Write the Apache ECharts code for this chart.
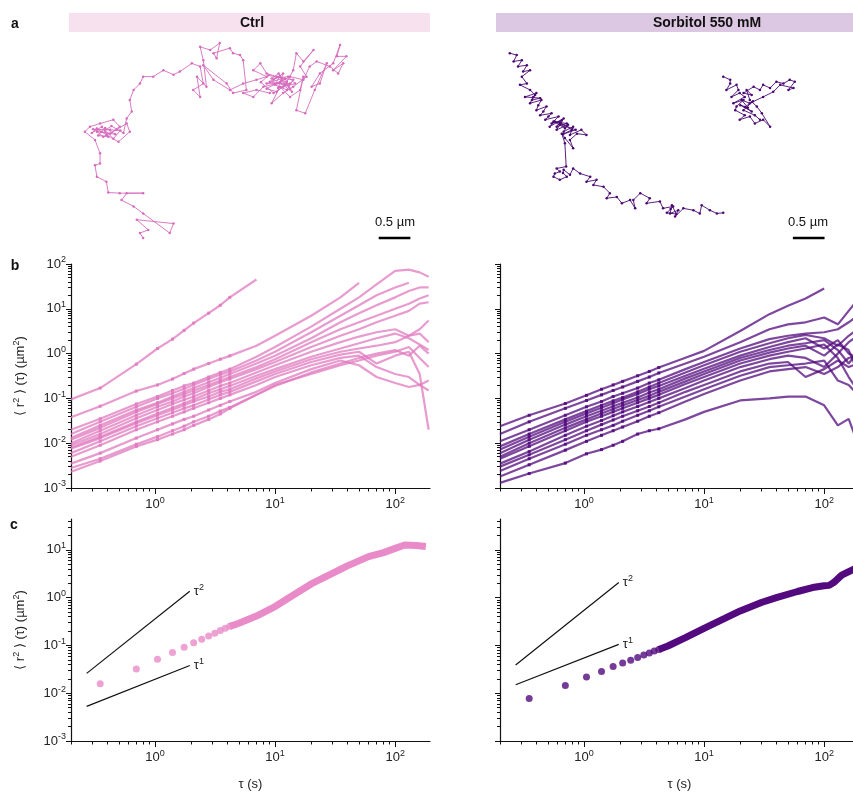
<!DOCTYPE html>
<html>
<head>
<meta charset="utf-8">
<script src="https://cdn.jsdelivr.net/npm/echarts@6/dist/echarts.min.js"></script>
<style>html,body{margin:0;padding:0;background:#fff}#fig{width:853px;height:792px}</style>
</head>
<body>
<div id="fig"></div>
<script>
// ---- a: example trajectories, positions in µm ----
var ctrlTrack = [[2.26,3.76],[2.21,3.68],[2.34,3.63],[2.16,3.47],[2.74,3.53],[2.68,3.68],[2.26,3.37],[2.11,3.26],[1.92,3.16],[2.00,3.05],[2.26,3.05],[1.89,3.05],[1.71,3.04],[1.68,2.87],[1.53,2.79],[1.50,2.61],[1.58,2.58],[1.58,2.42],[1.50,2.21],[1.34,2.08],[1.42,2.00],[1.58,1.95],[1.79,1.89],[1.89,2.00],[1.74,2.11],[1.53,2.08],[1.63,2.16],[1.84,2.05],[2.00,1.95],[2.05,2.08],[1.87,2.24],[1.68,2.13],[1.53,2.03],[1.45,2.10],[1.61,2.00],[1.71,2.16],[1.55,2.14],[1.66,2.02],[1.82,2.12],[1.60,2.08],[1.47,2.04],[1.74,2.05],[1.90,2.06],[1.79,2.19],[1.66,2.06],[1.76,1.99],[1.95,2.10],[2.00,1.87],[2.08,1.76],[2.05,1.58],[2.11,1.42],[2.21,1.32],[2.26,1.21],[2.42,1.21],[2.58,1.11],[2.74,1.18],[2.84,1.13],[3.03,1.00],[3.16,1.05],[3.21,1.32],[3.05,1.42],[3.16,1.53],[3.11,1.21],[3.26,1.37],[3.21,0.95],[3.16,0.74],[3.32,0.79],[3.47,0.68],[3.42,0.92],[3.37,0.84],[3.63,0.76],[3.68,0.84],[3.79,0.87],[3.84,0.95],[3.89,1.42],[3.68,1.47],[3.58,1.32],[3.21,1.03],[3.37,1.26],[3.63,1.42],[3.84,1.32],[4.05,1.26],[4.21,1.21],[4.00,1.11],[4.11,1.00],[4.21,1.16],[4.37,1.21],[4.32,1.26],[4.47,1.16],[4.39,1.39],[4.58,1.32],[4.21,1.32],[4.45,1.24],[4.63,1.26],[4.53,1.42],[4.34,1.34],[4.42,1.20],[4.26,1.29],[4.50,1.34],[4.37,1.45],[4.21,1.40],[4.45,1.27],[4.58,1.40],[4.40,1.16],[4.29,1.24],[4.55,1.21],[4.66,1.32],[4.47,1.37],[4.32,1.47],[4.12,1.30],[4.24,1.19],[4.50,1.24],[4.61,1.45],[4.42,1.30],[4.53,1.29],[4.63,1.11],[4.68,0.84],[4.79,0.97],[4.95,0.79],[4.74,1.05],[4.84,1.21],[4.63,1.37],[4.47,1.47],[4.29,1.63],[4.42,1.37],[4.58,1.53],[4.74,1.42],[4.79,1.21],[4.68,1.74],[4.82,1.79],[4.97,1.42],[5.16,1.00],[5.05,1.32],[4.92,1.37],[5.05,1.16],[5.26,1.00],[5.37,0.71],[5.32,0.89],[5.47,0.89],[5.26,1.11],[5.42,1.00],[5.34,1.16],[5.21,1.05],[5.00,0.97],[4.89,1.05],[4.79,1.26],[4.58,1.21],[4.37,1.32],[4.16,1.37],[4.00,1.53],[3.84,1.47],[4.05,1.42],[4.26,1.47]];
var sorbTrackA = [[1.26,0.84],[1.37,0.87],[1.32,0.97],[1.45,0.95],[1.39,1.05],[1.53,1.03],[1.47,1.13],[1.58,1.11],[1.45,1.21],[1.53,1.32],[1.42,1.34],[1.58,1.42],[1.66,1.50],[1.61,1.58],[1.74,1.55],[1.50,1.53],[1.68,1.47],[1.63,1.53],[1.58,1.63],[1.76,1.58],[1.71,1.66],[1.68,1.74],[1.84,1.68],[1.79,1.76],[1.74,1.82],[1.92,1.79],[1.87,1.84],[1.82,1.89],[2.03,1.84],[1.92,1.95],[2.08,1.90],[2.00,2.00],[2.16,1.95],[1.95,1.92],[2.13,2.02],[2.05,1.93],[2.24,2.05],[2.10,2.12],[2.30,2.05],[1.97,1.92],[1.89,2.00],[2.11,1.87],[2.05,1.97],[2.00,2.05],[2.18,1.97],[2.11,2.08],[2.26,2.00],[2.21,2.13],[2.39,2.05],[2.47,2.13],[2.32,2.11],[2.21,2.21],[2.26,2.34],[2.13,2.18],[2.08,2.11],[2.13,2.26],[2.15,2.63],[2.00,2.66],[2.05,2.71],[1.97,2.74],[1.95,2.79],[2.05,2.84],[2.16,2.79],[2.10,2.73],[2.11,2.68],[2.21,2.76],[2.26,2.66],[2.37,2.74],[2.53,2.79],[2.47,2.87],[2.63,2.84],[2.58,2.92],[2.74,2.95],[2.84,3.05],[2.79,3.13],[2.95,3.11],[3.03,3.21],[3.16,3.16],[3.24,3.29],[3.21,3.16],[3.32,3.05],[3.47,3.13],[3.42,3.21],[3.63,3.18],[3.68,3.29],[3.84,3.26],[3.80,3.30],[3.74,3.36],[3.89,3.38],[3.82,3.24],[3.79,3.37],[3.92,3.32],[3.87,3.42],[4.00,3.29],[4.16,3.32],[4.26,3.37],[4.29,3.24],[4.42,3.32],[4.53,3.37],[4.63,3.36]];
var sorbTrackB = [[4.63,1.21],[4.74,1.26],[4.74,1.32],[4.68,1.42],[4.84,1.34],[4.87,1.42],[4.76,1.53],[4.89,1.47],[4.97,1.53],[4.79,1.63],[4.95,1.58],[4.84,1.68],[4.82,1.74],[4.97,1.82],[4.89,1.89],[5.05,1.84],[5.13,1.95],[5.26,1.89],[5.37,2.00],[5.24,1.79],[5.16,1.68],[5.05,1.58],[5.00,1.42],[5.08,1.50],[4.95,1.47],[5.11,1.37],[5.21,1.42],[5.26,1.34],[5.37,1.39],[5.47,1.29],[5.58,1.32],[5.68,1.26],[5.76,1.29],[5.66,1.42],[5.74,1.39],[5.53,1.34],[5.42,1.45],[5.26,1.53],[5.05,1.63],[4.92,1.58],[5.02,1.70],[4.90,1.66],[5.08,1.76],[4.97,1.69],[5.10,1.60],[4.95,1.74],[5.13,1.82],[5.21,1.89]];
var scaleBarCtrl = [[5.98,3.76],[6.48,3.76]];
var scaleBarSorb = [[5.73,3.76],[6.23,3.76]];

// ---- b: MSD of single trajectories (µm²) vs lag time (s) ----
var tauB = [0.2,0.35,0.7,1.05,1.4,1.75,2.1,2.8,3.5,4.2,7,10,20,35,50,70,100,130,160,190];
var msdCtrl = [
  [0.095,0.17,0.58,1.3,2.1,3.3,4.8,8,12,18,45],
  [0.038,0.067,0.146,0.2,0.27,0.36,0.45,0.6,0.75,0.89,1.5,2.5,7,18,38],
  [0.02,0.035,0.075,0.11,0.15,0.19,0.22,0.3,0.38,0.45,0.85,1.4,4,10,18,35,70,75,65,52],
  [0.016,0.03,0.065,0.1,0.13,0.165,0.2,0.27,0.34,0.4,0.7,1.1,3,7,12,20,30,38],
  [0.013,0.025,0.055,0.08,0.11,0.14,0.17,0.23,0.29,0.35,0.6,0.9,2.2,5,8,12,18,25,30,30],
  [0.012,0.022,0.05,0.075,0.1,0.125,0.15,0.2,0.25,0.3,0.5,0.75,1.8,3.5,5,7,10,13,17,20],
  [0.01,0.019,0.042,0.065,0.085,0.11,0.13,0.18,0.23,0.27,0.45,0.65,1.4,2.5,3.5,5,7,9,13,14],
  [0.009,0.016,0.036,0.055,0.075,0.093,0.11,0.15,0.19,0.22,0.38,0.55,1.1,1.8,2.4,3,3.5,2.5,3.5,5.5],
  [0.008,0.014,0.03,0.046,0.062,0.078,0.095,0.13,0.16,0.19,0.32,0.45,0.85,1.3,1.7,2.2,2.8,2.2,1.6,1.2],
  [0.0075,0.013,0.028,0.042,0.056,0.07,0.085,0.11,0.14,0.16,0.28,0.4,0.75,1.1,1.3,1.5,1.8,2.5,2.8,1.8],
  [0.006,0.011,0.024,0.036,0.048,0.06,0.07,0.095,0.12,0.14,0.24,0.35,0.65,0.95,1.1,0.6,0.9,1.1,0.35,0.02],
  [0.005,0.009,0.02,0.03,0.04,0.05,0.06,0.08,0.1,0.12,0.2,0.3,0.55,0.8,0.9,0.5,0.35,0.3,0.2,0.25],
  [0.0035,0.006,0.013,0.02,0.027,0.034,0.04,0.055,0.07,0.085,0.14,0.22,0.45,0.7,0.55,0.3,0.22,0.18,0.2,0.15],
  [0.0028,0.0045,0.0095,0.014,0.019,0.024,0.03,0.04,0.052,0.063,0.12,0.19,0.38,0.6,0.8,1.0,1.2,0.9,1.5,1.0],
  [0.0023,0.004,0.0085,0.012,0.016,0.02,0.025,0.034,0.045,0.06,0.12,0.2,0.35,0.55,0.7,0.9,1.1,1.4,0.8,0.5]
];
var msdSorb = [
  [0.024,0.042,0.077,0.117,0.16,0.2,0.24,0.32,0.4,0.49,0.81,1.15,3.2,7.6,11.7,17,28.5],
  [0.016,0.03,0.06,0.09,0.12,0.15,0.18,0.24,0.3,0.37,0.6,0.85,1.8,3.5,4.5,5,6.4,4.5,9,16],
  [0.011,0.02,0.042,0.065,0.085,0.11,0.13,0.17,0.22,0.26,0.45,0.65,1.3,2.1,2.5,2.8,3.0,3.5,5,7],
  [0.0085,0.016,0.034,0.052,0.07,0.088,0.105,0.14,0.18,0.22,0.38,0.55,1.1,1.7,2.2,2.6,2.2,1.5,2.5,3.5],
  [0.0072,0.014,0.03,0.046,0.062,0.078,0.095,0.125,0.16,0.19,0.32,0.46,0.9,1.4,1.8,2.2,1.3,2.0,1.0,0.8],
  [0.006,0.012,0.026,0.04,0.053,0.067,0.08,0.105,0.135,0.16,0.28,0.4,0.8,1.2,1.5,1.7,2.0,1.2,0.6,1.1],
  [0.005,0.01,0.022,0.034,0.046,0.058,0.07,0.092,0.115,0.14,0.24,0.35,0.7,1.05,1.3,1.5,0.9,1.6,1.2,0.4],
  [0.0045,0.0085,0.019,0.03,0.04,0.05,0.06,0.08,0.1,0.12,0.21,0.3,0.6,0.9,1.1,1.3,1.6,0.8,0.3,0.15],
  [0.0035,0.0065,0.015,0.024,0.032,0.041,0.05,0.066,0.083,0.1,0.17,0.25,0.5,0.75,0.9,0.8,0.5,1.0,1.8,2.5],
  [0.003,0.0055,0.012,0.019,0.026,0.033,0.04,0.053,0.066,0.08,0.14,0.2,0.4,0.6,0.65,0.3,0.45,0.7,0.5,0.6],
  [0.0024,0.0045,0.0095,0.015,0.02,0.025,0.031,0.042,0.053,0.065,0.11,0.16,0.32,0.5,0.55,0.6,0.7,0.25,0.2,0.12],
  [0.0018,0.0033,0.007,0.011,0.015,0.019,0.023,0.031,0.04,0.048,0.085,0.125,0.25,0.4,0.45,0.5,0.35,0.5,0.8,0.9],
  [0.0013,0.0021,0.0036,0.0058,0.0072,0.009,0.011,0.016,0.019,0.021,0.034,0.05,0.09,0.1,0.11,0.11,0.07,0.025,0.035,0.01]
];

// ---- c: ensemble averaged MSD ----
var tauCPts = [0.35,0.7,1.05,1.4,1.75,2.1,2.45,2.8,3.15,3.5,3.85,4.2];
var meanCtrlPts = [0.0157,0.032,0.051,0.071,0.091,0.114,0.134,0.158,0.18,0.204,0.229,0.25];
var meanSorbPts = [0.0077,0.0145,0.0217,0.0285,0.036,0.0426,0.049,0.056,0.063,0.069,0.076,0.082];
var tauCtrlLong = [4.2,5,7,10,15,20,30,40,60,80,100,120,150,180];
var meanCtrlLong = [0.25,0.29,0.41,0.65,1.23,1.93,3.2,4.6,7.2,8.7,10.7,12.6,12.3,11.7];
var tauSorbLong = [4.2,5,7,10,15,20,30,40,60,80,100,110,120,140,170,190];
var meanSorbLong = [0.082,0.097,0.145,0.227,0.37,0.525,0.79,1.0,1.34,1.62,1.76,1.8,2.06,2.94,3.74,4.3];
// guide slopes
var refTau = [0.27,1.95];
var refCtrl2 = [0.026,1.35], refCtrl1 = [0.0053,0.038];
var refSorb2 = [0.039,2.07], refSorb1 = [0.015,0.105];

// tick labels
var xTickLabels = [1,10,100];
var yTickLabels = [0.001,0.01,0.1,1,10,100];

var PINK = '#e07abf', PINK_C = '#e88bc8', PURPLE = '#520a7e';
var FONT = '"Liberation Sans", Arial, sans-serif';
var TAU_MIN = 0.2, TAU_MAX = 195, MSD_MIN = 0.001;
var PX_PER_UM = 63.33;
var L10 = Math.log10;

var SUP = {
  b: {fontSize: 13, fontFamily: FONT, color: '#222'},
  s: {fontSize: 9, fontFamily: FONT, color: '#222', padding: [0, 0, 8, 0]}
};

var grids = [], xAxes = [], yAxes = [], series = [];

function powLabel(v) {
    return '{b|10}{s|' + Math.round(v) + '}';
}

function minorLogs(lo, hi) {
    var out = [];
    for (var k = Math.floor(lo); k <= Math.ceil(hi); k++) {
        for (var m = 2; m <= 9; m++) {
            var v = k + L10(m);
            if (v >= lo - 1e-9 && v <= hi + 1e-9) out.push(v);
        }
    }
    return out;
}

function inRange(vals, lo, hi) {
    return vals.map(L10).filter(function (v) { return v >= lo - 1e-9 && v <= hi + 1e-9; });
}

function addTrackGrid(left, width) {
    var g = grids.length;
    grids.push({left: left, top: 0, width: width, height: 250, outerBoundsMode: 'none'});
    xAxes.push({type: 'value', gridIndex: g, min: 0, max: width / PX_PER_UM, show: false});
    yAxes.push({type: 'value', gridIndex: g, min: 0, max: 250 / PX_PER_UM, inverse: true, show: false});
    return {x: xAxes.length - 1, y: yAxes.length - 1};
}

function addLogGrid(left, top, height, yMax, showYLabels, showXName) {
    var g = grids.length;
    grids.push({left: left, top: top, width: 359, height: height, outerBoundsMode: 'none'});
    var xlo = L10(TAU_MIN), xhi = L10(TAU_MAX), ylo = L10(MSD_MIN), yhi = L10(yMax);
    var line = {show: true, onZero: false, lineStyle: {color: '#111', width: 1.2}};
    var xi = xAxes.length;
    // data axis (log scale), hidden
    xAxes.push({type: 'log', gridIndex: g, min: TAU_MIN, max: TAU_MAX, show: false});
    // major ticks + labels
    xAxes.push({type: 'value', gridIndex: g, min: xlo, max: xhi, position: 'bottom',
        axisLine: line, splitLine: {show: false},
        axisTick: {show: true, length: 6, customValues: inRange(xTickLabels, xlo, xhi), lineStyle: {color: '#111'}},
        axisLabel: {customValues: inRange(xTickLabels, xlo, xhi), formatter: powLabel, rich: SUP, margin: 8},
        name: showXName ? 'τ (s)' : '', nameLocation: 'middle', nameGap: 37,
        nameTextStyle: {fontSize: 13, fontFamily: FONT, color: '#222'}});
    // minor ticks
    xAxes.push({type: 'value', gridIndex: g, min: xlo, max: xhi, position: 'bottom',
        axisLine: {show: false, onZero: false}, splitLine: {show: false}, axisLabel: {show: false},
        axisTick: {show: true, length: 3.5, customValues: minorLogs(xlo, xhi), lineStyle: {color: '#111'}}});
    var yi = yAxes.length;
    yAxes.push({type: 'log', gridIndex: g, min: MSD_MIN, max: yMax, show: false});
    yAxes.push({type: 'value', gridIndex: g, min: ylo, max: yhi, position: 'left',
        axisLine: line, splitLine: {show: false},
        axisTick: {show: true, length: 5, customValues: inRange(yTickLabels, ylo, yhi), lineStyle: {color: '#111'}},
        axisLabel: {show: showYLabels, customValues: inRange(yTickLabels, ylo, yhi), formatter: powLabel, rich: SUP, margin: 5},
        name: showYLabels ? '\u27E8 r{s|2} \u27E9 (τ) (µm{s|2})' : '', nameLocation: 'middle', nameGap: 42, nameRotate: 90,
        nameTextStyle: {fontSize: 13, fontFamily: FONT, color: '#222', rich: {s: SUP.s}}});
    yAxes.push({type: 'value', gridIndex: g, min: ylo, max: yhi, position: 'left',
        axisLine: {show: false, onZero: false}, splitLine: {show: false}, axisLabel: {show: false},
        axisTick: {show: true, length: 3, customValues: minorLogs(ylo, yhi), lineStyle: {color: '#111'}}});
    return {x: xi, y: yi};
}

function pairs(xs, ys) {
    return ys.map(function (v, i) { return [xs[i], v]; });
}

// panel a
var ta = addTrackGrid(0, 430);
var tb = addTrackGrid(430, 423);
[[ta, ctrlTrack, '#d66cbd'], [tb, sorbTrackA, '#4a0872'], [tb, sorbTrackB, '#4a0872']].forEach(function (t) {
    series.push({type: 'line', xAxisIndex: t[0].x, yAxisIndex: t[0].y, data: t[1],
        symbol: 'circle', symbolSize: 2.5, itemStyle: {color: t[2]},
        lineStyle: {color: t[2], width: 0.9}});
});
[[ta, scaleBarCtrl], [tb, scaleBarSorb]].forEach(function (t) {
    series.push({type: 'line', xAxisIndex: t[0].x, yAxisIndex: t[0].y, data: t[1],
        symbol: 'none', lineStyle: {color: '#000', width: 2.5}});
});

// panel b
var gbL = addLogGrid(71, 264, 224, 100, true, false);
var gbR = addLogGrid(500, 264, 224, 100, false, false);
[[gbL, msdCtrl, PINK], [gbR, msdSorb, PURPLE]].forEach(function (t) {
    t[1].forEach(function (curve) {
        series.push({type: 'line', xAxisIndex: t[0].x, yAxisIndex: t[0].y,
            data: pairs(tauB, curve), symbol: 'rect',
            symbolSize: function (d) { return d[0] > 0.3 && d[0] < 5 ? 3 : 0; },
            itemStyle: {color: t[2], opacity: 0.9},
            lineStyle: {color: t[2], width: 2.2, opacity: 0.75}});
    });
});

// panel c
var gcL = addLogGrid(71, 519, 222, 44, true, true);
var gcR = addLogGrid(500, 519, 222, 44, false, true);
function guide(g, ys, p) {
    series.push({type: 'line', xAxisIndex: g.x, yAxisIndex: g.y, data: pairs(refTau, ys),
        symbol: 'none', lineStyle: {color: '#111', width: 1.2},
        endLabel: {show: true, formatter: '{t|τ}{s|' + p + '}', distance: 4,
            rich: {t: {fontSize: 13, fontFamily: FONT, color: '#222'}, s: SUP.s}}});
}
[[gcL, meanCtrlPts, tauCtrlLong, meanCtrlLong, PINK_C, refCtrl2, refCtrl1],
 [gcR, meanSorbPts, tauSorbLong, meanSorbLong, PURPLE, refSorb2, refSorb1]].forEach(function (t) {
    guide(t[0], t[5], 2);
    guide(t[0], t[6], 1);
    series.push({type: 'line', xAxisIndex: t[0].x, yAxisIndex: t[0].y, data: pairs(t[2], t[3]),
        symbol: 'none', lineStyle: {color: t[4], width: 7}});
    series.push({type: 'scatter', xAxisIndex: t[0].x, yAxisIndex: t[0].y, data: pairs(tauCPts, t[1]),
        symbol: 'circle', symbolSize: 7, itemStyle: {color: t[4]}});
});

var chart = echarts.init(document.getElementById('fig'));
chart.setOption({
    animation: false,
    backgroundColor: '#fff',
    textStyle: {fontFamily: FONT},
    grid: grids,
    xAxis: xAxes,
    yAxis: yAxes,
    series: series,
    graphic: [
        {type: 'rect', shape: {x: 69, y: 13, width: 361, height: 19}, style: {fill: '#f8e1ef'}, silent: true},
        {type: 'rect', shape: {x: 496, y: 13, width: 357, height: 19}, style: {fill: '#dcc8e2'}, silent: true},
        {type: 'text', x: 252, y: 23, style: {text: 'Ctrl', font: 'bold 14px ' + FONT, fill: '#111', align: 'center', verticalAlign: 'middle'}},
        {type: 'text', x: 707, y: 23, style: {text: 'Sorbitol 550 mM', font: 'bold 14px ' + FONT, fill: '#111', align: 'center', verticalAlign: 'middle'}},
        {type: 'text', x: 15, y: 24, style: {text: 'a', font: 'bold 14px ' + FONT, fill: '#111', align: 'center', verticalAlign: 'middle'}},
        {type: 'text', x: 15, y: 266, style: {text: 'b', font: 'bold 14px ' + FONT, fill: '#111', align: 'center', verticalAlign: 'middle'}},
        {type: 'text', x: 14, y: 525, style: {text: 'c', font: 'bold 14px ' + FONT, fill: '#111', align: 'center', verticalAlign: 'middle'}},
        {type: 'text', x: 395, y: 222, style: {text: '0.5 µm', font: '13px ' + FONT, fill: '#111', align: 'center', verticalAlign: 'middle'}},
        {type: 'text', x: 808, y: 222, style: {text: '0.5 µm', font: '13px ' + FONT, fill: '#111', align: 'center', verticalAlign: 'middle'}}
    ]
});
</script>
</body>
</html>
